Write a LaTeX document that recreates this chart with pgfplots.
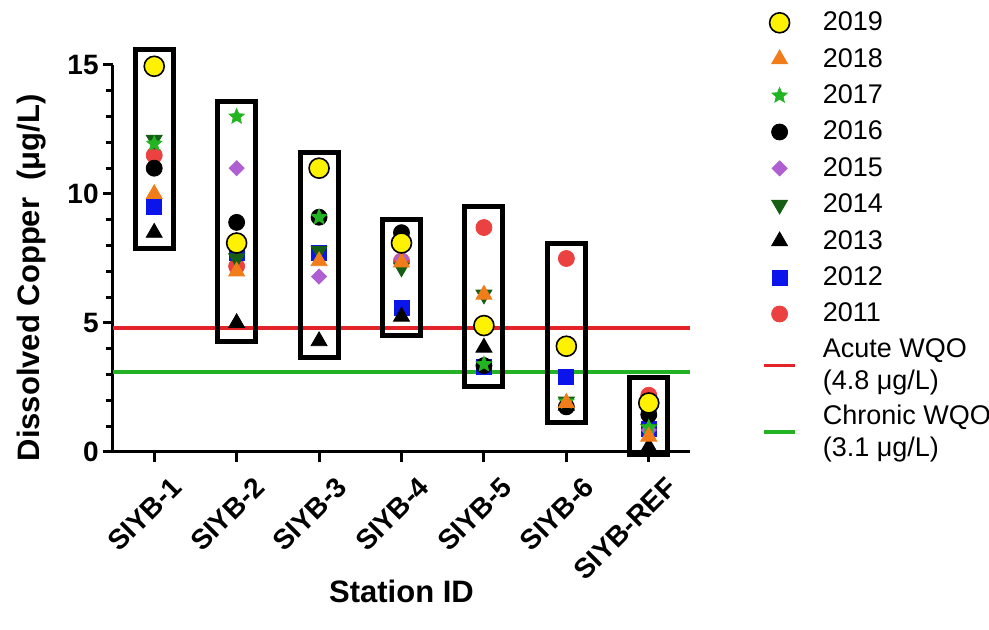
\documentclass[border=0pt]{standalone}
\usepackage{fontspec}
\setmainfont{Liberation Sans}
\usepackage{pgfplots}
\pgfplotsset{compat=1.18}
\definecolor{c2019}{RGB}{255,242,0}
\definecolor{c2018}{RGB}{240,125,25}
\definecolor{c2017}{RGB}{35,180,35}
\definecolor{c2015}{RGB}{175,95,210}
\definecolor{c2014}{RGB}{20,95,20}
\definecolor{c2012}{RGB}{10,20,235}
\definecolor{c2011}{RGB}{236,65,65}
\definecolor{acute}{RGB}{226,35,40}
\definecolor{chronic}{RGB}{35,178,35}
\pgfdeclareplotmark{fstar}{%
  \pgfpathmoveto{\pgfpointpolar{90}{\pgfplotmarksize}}%
  \pgfpathlineto{\pgfpointpolar{126}{0.45\pgfplotmarksize}}%
  \pgfpathlineto{\pgfpointpolar{162}{\pgfplotmarksize}}%
  \pgfpathlineto{\pgfpointpolar{198}{0.45\pgfplotmarksize}}%
  \pgfpathlineto{\pgfpointpolar{234}{\pgfplotmarksize}}%
  \pgfpathlineto{\pgfpointpolar{270}{0.45\pgfplotmarksize}}%
  \pgfpathlineto{\pgfpointpolar{306}{\pgfplotmarksize}}%
  \pgfpathlineto{\pgfpointpolar{342}{0.45\pgfplotmarksize}}%
  \pgfpathlineto{\pgfpointpolar{18}{\pgfplotmarksize}}%
  \pgfpathlineto{\pgfpointpolar{54}{0.45\pgfplotmarksize}}%
  \pgfpathclose\pgfusepathqfillstroke}
\begin{document}
\begin{tikzpicture}
\useasboundingbox (-56.5pt,-89pt) rectangle (438pt,226pt);
\begin{axis}[
  at={(0,0)}, anchor=south west,
  scale only axis, width=288.5pt, height=193.5pt,
  clip=false,
  xmin=-0.5, xmax=6.5, ymin=0, ymax=15,
  axis x line*=bottom, axis y line*=left,
  axis line style={line width=1.5pt},
  every tick/.style={line width=1.5pt, black},
  tick align=outside,
  major tick length=5pt, minor tick length=3.5pt,
  xtick={0,1,2,3,4,5,6},
  xticklabels={SIYB-1,SIYB-2,SIYB-3,SIYB-4,SIYB-5,SIYB-6,SIYB-REF},
  ytick={0,5,10,15}, minor y tick num=4,
  /pgf/number format/assume math mode=true,
  ticklabel style={font=\bfseries\fontsize{14}{16}\selectfont},
  xticklabel style={rotate=45, anchor=north east, inner sep=1pt, yshift=-9pt, xshift=2pt},
  yticklabel style={inner sep=2pt},
  xlabel={Station ID},
  ylabel={Dissolved Copper\ \ (μg/L)},
  label style={font=\bfseries\fontsize{15.5}{18}\selectfont},
  xlabel style={at={(axis description cs:0.5,-0.3592)}, anchor=center},
  ylabel style={at={(axis description cs:-0.1404,0.45)}, anchor=center},
  legend image code/.code={\draw[mark repeat=2,mark phase=2,#1] plot coordinates {(0pt,0pt) (7.75pt,0pt) (15.5pt,0pt)};},
  reverse legend,
  legend style={draw=none, fill=none, at={(axis description cs:1,1)}, anchor=north west,
    xshift=36pt, yshift=27.3pt, inner sep=0pt, row sep=6.2pt, column sep=13pt,
    font=\fontsize{13.5}{16}\selectfont,
    nodes={inner sep=0pt, minimum height=12pt, align=left}},
  legend cell align=left,
]
\addplot[chronic, line width=1.7pt] coordinates {(-0.5,3.1) (6.5,3.1)};
\addlegendentry{Chronic WQO\\(3.1 μg/L)}
\addplot[acute, line width=1.7pt] coordinates {(-0.5,4.8) (6.5,4.8)};
\addlegendentry{Acute WQO\\(4.8 μg/L)}
% boxes
\addplot[black, line width=2.5pt, line join=miter, forget plot] coordinates {(-0.23,7.9) (0.23,7.9) (0.23,15.6) (-0.23,15.6)} -- cycle;
\addplot[black, line width=2.5pt, line join=miter, forget plot] coordinates {(0.77,4.3) (1.23,4.3) (1.23,13.6) (0.77,13.6)} -- cycle;
\addplot[black, line width=2.5pt, line join=miter, forget plot] coordinates {(1.77,3.65) (2.23,3.65) (2.23,11.6) (1.77,11.6)} -- cycle;
\addplot[black, line width=2.5pt, line join=miter, forget plot] coordinates {(2.77,4.5) (3.23,4.5) (3.23,9.0) (2.77,9.0)} -- cycle;
\addplot[black, line width=2.5pt, line join=miter, forget plot] coordinates {(3.77,2.55) (4.23,2.55) (4.23,9.5) (3.77,9.5)} -- cycle;
\addplot[black, line width=2.5pt, line join=miter, forget plot] coordinates {(4.77,1.15) (5.23,1.15) (5.23,8.1) (4.77,8.1)} -- cycle;
\addplot[black, line width=2.5pt, line join=miter, forget plot] coordinates {(5.77,-0.08) (6.23,-0.08) (6.23,2.9) (5.77,2.9)} -- cycle;
% 2011
\addplot[only marks, mark=*, mark size=4pt, draw=c2011, fill=c2011] coordinates {(0,11.5) (1,7.2) (3,7.4) (4,8.7) (5,7.5) (6,2.2)};
\addlegendentry{2011}
% 2012
\addplot[only marks, mark=square*, mark size=3.75pt, draw=c2012, fill=c2012] coordinates {(0,9.5) (1,7.7) (2,7.7) (3,5.6) (4,3.3) (5,2.9) (6,0.9)};
\addlegendentry{2012}
% 2013
\addplot[only marks, mark=triangle*, mark size=4.6pt, draw=black, fill=black] coordinates {(0,8.5) (1,5.0) (2,4.3) (3,5.25) (4,4.05) (5,1.8) (6,0.2)};
\addlegendentry{2013}
% 2014
\addplot[only marks, mark=triangle*, mark size=4.6pt, draw=c2014, fill=c2014, mark options={rotate=180}] coordinates {(0,12.1) (1,7.5) (2,7.8) (3,7.15) (4,6.1) (5,1.95) (6,0.9)};
\addlegendentry{2014}
% 2015
\addplot[only marks, mark=square*, mark size=2.65pt, draw=c2015, fill=c2015, mark options={rotate=45}] coordinates {(1,11.0) (2,6.8) (3,7.5) (6,0.85)};
\addlegendentry{2015}
% 2016
\addplot[only marks, mark=*, mark size=4pt, draw=black, fill=black] coordinates {(0,11.0) (1,8.9) (2,9.1) (3,8.5) (4,3.35) (5,1.75) (6,1.45)};
\addlegendentry{2016}
% 2017
\addplot[only marks, mark=fstar, mark size=4pt, draw=c2017, fill=c2017] coordinates {(0,11.95) (1,13.0) (2,9.1) (4,3.4) (5,1.95) (6,0.95)};
\addlegendentry{2017}
% 2018
\addplot[only marks, mark=triangle*, mark size=4.6pt, draw=c2018, fill=c2018] coordinates {(0,10.0) (1,7.0) (2,7.4) (3,7.35) (4,6.1) (5,1.9) (6,0.6)};
\addlegendentry{2018}
% 2019
\addplot[only marks, mark=*, mark size=5pt, draw=black, fill=c2019, line width=0.8pt] coordinates {(0,14.95) (1,8.1) (2,11.0) (3,8.1) (4,4.9) (5,4.1) (6,1.9)};
\addlegendentry{2019}
\end{axis}
\end{tikzpicture}
\end{document}
